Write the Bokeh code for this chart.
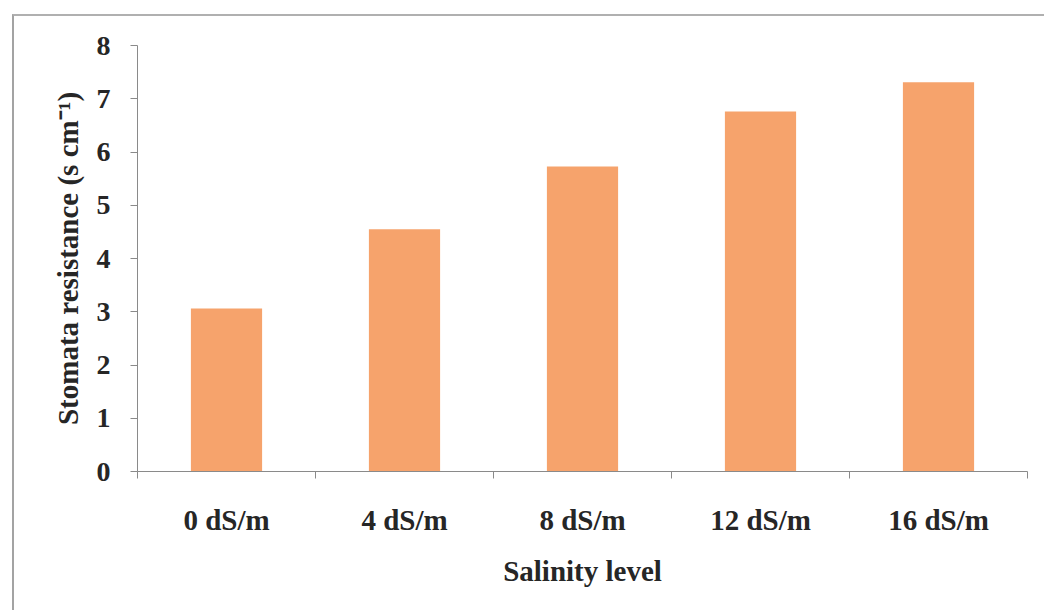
import numpy as np
from bokeh.plotting import figure
from bokeh.models import FixedTicker, Range1d
from bokeh.embed import file_html
from bokeh.resources import INLINE

# Salinity treatments and measured stomatal resistance
categories = ["0 dS/m", "4 dS/m", "8 dS/m", "12 dS/m", "16 dS/m"]
resistance = [3.06, 4.55, 5.73, 6.76, 7.31]
y_ticks = [0, 1, 2, 3, 4, 5, 6, 7, 8]

n = len(categories)
centers = np.arange(n) + 0.5
bounds = list(range(n + 1))

FONT = "Liberation Serif"
TEXT = "#262626"
AXIS = "#8a8a8a"

p = figure(
    width=1032, height=596,
    x_range=Range1d(0, n), y_range=Range1d(0, 8),
    output_backend="svg", toolbar_location=None,
    min_border_left=123, min_border_right=19,
    min_border_top=29, min_border_bottom=141,
)
p.margin = (14, 0, 0, 12)
p.styles = {"border-left": "2px solid #a3a3a3", "border-top": "2px solid #b0b0b0"}

p.vbar(x=centers, top=resistance, width=0.4, fill_color="#F6A36C", line_color=None)

p.grid.visible = False
p.outline_line_color = None
p.background_fill_color = "white"
p.border_fill_color = "white"

# x axis: category names at centres, tick marks at the boundaries
xa = p.xaxis[0]
xa.ticker = FixedTicker(ticks=list(centers), minor_ticks=bounds)
xa.major_label_overrides = {float(c): lab for c, lab in zip(centers, categories)}
xa.major_tick_line_color = None
xa.minor_tick_line_color = AXIS
xa.minor_tick_in = 0
xa.minor_tick_out = 7
xa.axis_line_color = AXIS
xa.major_label_standoff = 25
xa.major_label_text_font = FONT
xa.major_label_text_font_style = "bold"
xa.major_label_text_font_size = "29px"
xa.major_label_text_color = TEXT
xa.axis_label = "Salinity level"
xa.axis_label_text_font = FONT
xa.axis_label_text_font_style = "bold"
xa.axis_label_text_font_size = "29px"
xa.axis_label_text_color = TEXT
xa.axis_label_standoff = 16

ya = p.yaxis[0]
ya.ticker = FixedTicker(ticks=y_ticks, minor_ticks=[])
ya.major_tick_line_color = AXIS
ya.major_tick_in = 0
ya.major_tick_out = 7
ya.minor_tick_line_color = None
ya.axis_line_color = AXIS
ya.major_label_standoff = 20
ya.major_label_text_font = FONT
ya.major_label_text_font_style = "bold"
ya.major_label_text_font_size = "28px"
ya.major_label_text_color = TEXT
ya.axis_label = "Stomata resistance (s cm\u207b\u00b9)"
ya.axis_label_text_font = FONT
ya.axis_label_text_font_style = "bold"
ya.axis_label_text_font_size = "29px"
ya.axis_label_text_color = TEXT
ya.axis_label_standoff = 10

open("out.html", "w").write(file_html(p, INLINE))
